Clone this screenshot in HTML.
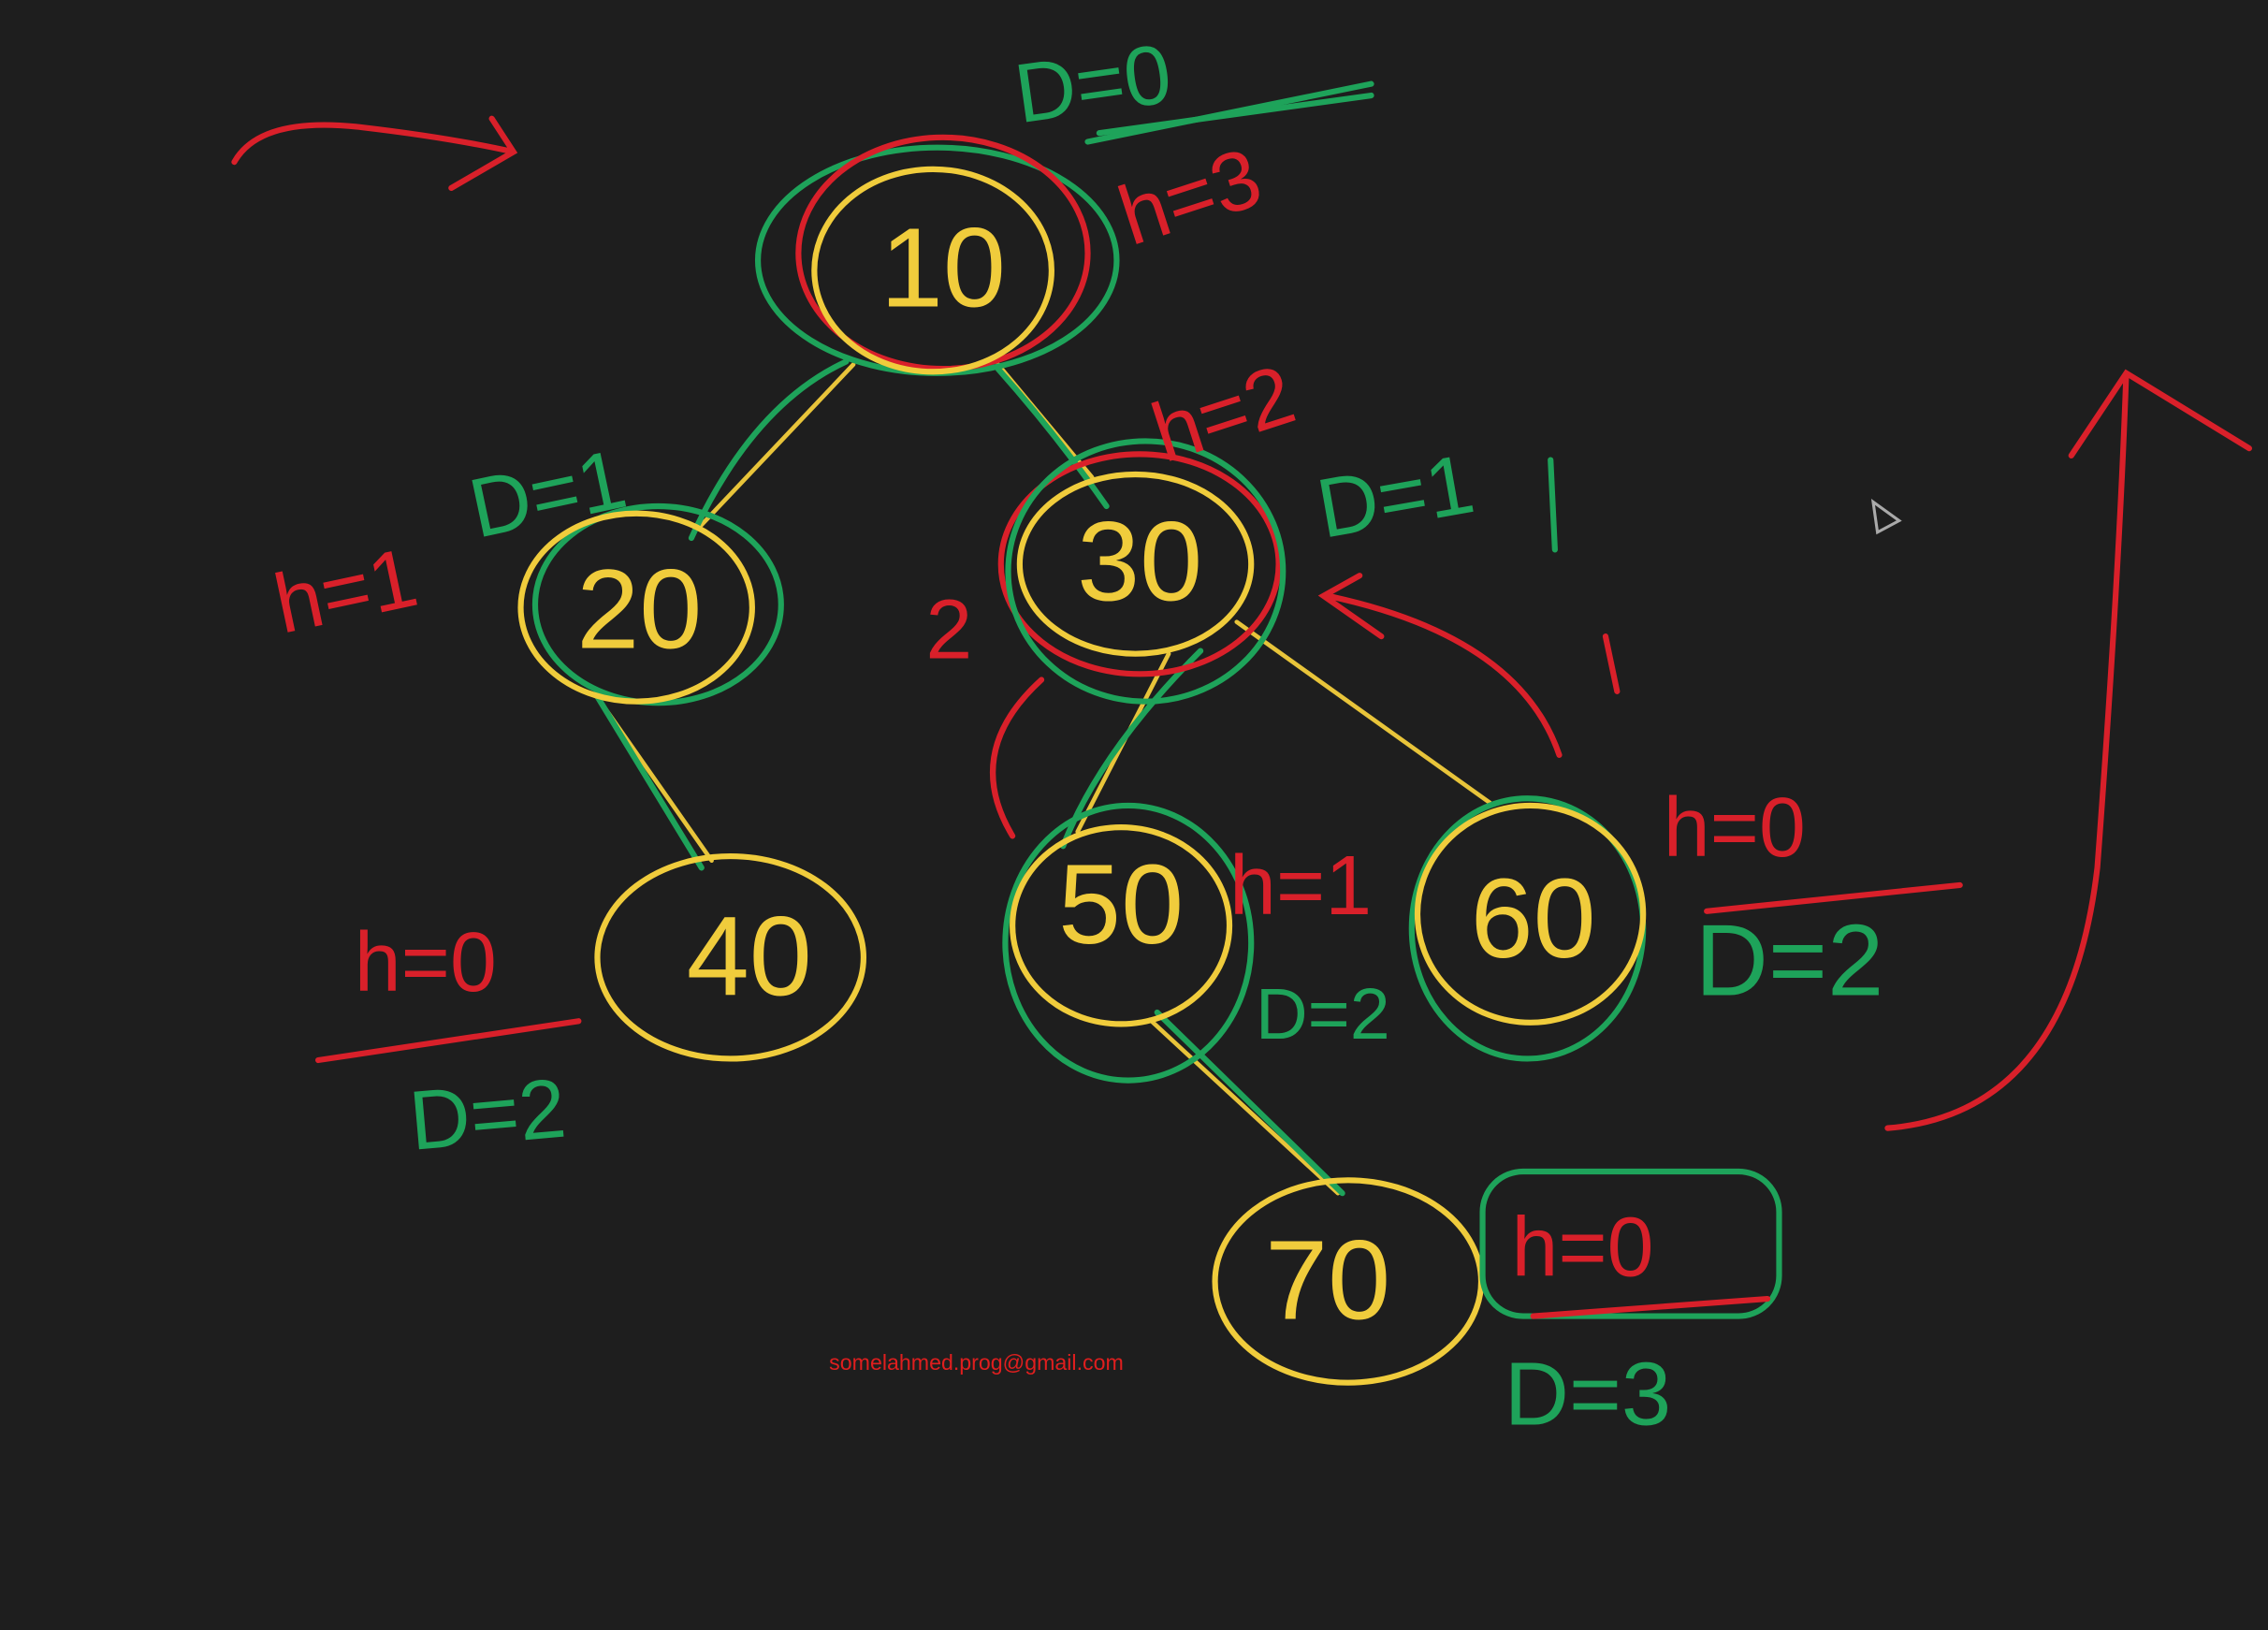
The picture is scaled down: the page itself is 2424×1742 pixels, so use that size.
<!DOCTYPE html>
<html><head><meta charset="utf-8"><style>
html,body{margin:0;padding:0;background:#1e1e1e;}
svg{display:block}
text{font-family:"Liberation Sans",sans-serif;font-weight:normal}
</style></head><body>
<svg width="2424" height="1742" viewBox="0 0 1568 1127" preserveAspectRatio="none" xmlns="http://www.w3.org/2000/svg">
<rect width="1568" height="1127" fill="#1e1e1e"/>
<g fill="none" stroke-linecap="round" stroke-width="4">
<!-- edges -->
<g stroke="#e8c43a" stroke-width="3">
<line x1="590" y1="252" x2="483" y2="365"/>
<line x1="690" y1="252" x2="755" y2="330"/>
<line x1="415" y1="485" x2="492" y2="595"/>
<line x1="808" y1="452" x2="745" y2="575"/>
<line x1="855" y1="430" x2="1030" y2="555"/>
<line x1="795" y1="705" x2="925" y2="825"/>
</g>
<g stroke="#1ea35a" stroke-width="4">
<path d="M585 250 Q520 280 478 372"/>
<path d="M690 255 Q730 300 765 350"/>
<line x1="412" y1="480" x2="485" y2="600"/>
<path d="M830 450 Q760 520 735 585"/>
<line x1="800" y1="700" x2="928" y2="825"/>
</g>
<!-- node circles -->
<ellipse cx="648" cy="180" rx="124" ry="78" stroke="#1ea35a"/>
<ellipse cx="652" cy="175" rx="100" ry="80" stroke="#d9202a"/>
<ellipse cx="645" cy="187" rx="82" ry="70" stroke="#f0cc3c"/>
<ellipse cx="455" cy="418" rx="85" ry="68" stroke="#1ea35a"/>
<ellipse cx="440" cy="420" rx="80" ry="65" stroke="#f0cc3c"/>
<ellipse cx="788" cy="390" rx="96" ry="76" stroke="#d9202a"/>
<ellipse cx="792" cy="395" rx="95" ry="90" stroke="#1ea35a"/>
<ellipse cx="785" cy="390" rx="80" ry="62" stroke="#f0cc3c"/>
<ellipse cx="505" cy="662" rx="92" ry="70" stroke="#f0cc3c"/>
<ellipse cx="780" cy="652" rx="85" ry="95" stroke="#1ea35a"/>
<ellipse cx="775" cy="640" rx="75" ry="68" stroke="#f0cc3c"/>
<ellipse cx="1056" cy="642" rx="80" ry="90" stroke="#1ea35a"/>
<ellipse cx="1058" cy="632" rx="78" ry="75" stroke="#f0cc3c"/>
<ellipse cx="932" cy="886" rx="92" ry="70" stroke="#f0cc3c"/>
<rect x="1025" y="810" width="205" height="100" rx="28" stroke="#1ea35a"/>
<!-- red arrows and marks -->
<path d="M162 112 Q180 80 250 88 Q310 95 355 105 M340 82 L355 105 L312 130" stroke="#d9202a"/>
<path d="M1305 780 Q1430 770 1450 600 Q1465 400 1470 258 M1432 315 L1470 258 L1555 310" stroke="#d9202a"/>
<path d="M1078 522 Q1050 440 918 412 M940 398 L915 412 L955 440" stroke="#d9202a"/>
<path d="M700 578 Q665 520 720 470" stroke="#d9202a"/>
<line x1="1110" y1="440" x2="1118" y2="478" stroke="#d9202a"/>
<line x1="752" y1="98" x2="948" y2="58" stroke="#1ea35a"/>
<line x1="760" y1="92" x2="948" y2="66" stroke="#1ea35a"/>
<line x1="220" y1="733" x2="400" y2="706" stroke="#d9202a"/>
<line x1="1180" y1="630" x2="1355" y2="612" stroke="#d9202a"/>
<line x1="1060" y1="910" x2="1222" y2="898" stroke="#d9202a"/>
<line x1="1072" y1="318" x2="1075" y2="380" stroke="#1ea35a"/>
</g>
<g font-size="78" fill="#f0cc3c" text-anchor="middle">
<text x="652" y="212">10</text>
<text x="442" y="448">20</text>
<text x="788" y="415">30</text>
<text x="518" y="688">40</text>
<text x="775" y="652">50</text>
<text x="1060" y="662">60</text>
<text x="918" y="912">70</text>
</g>
<g font-size="58" fill="#1ea35a">
<text x="705" y="85" transform="rotate(-8 705 85)">D=0</text>
<text x="330" y="372" transform="rotate(-12 330 372)">D=1</text>
<text x="915" y="372" transform="rotate(-10 915 372)">D=1</text>
<text x="285" y="795" transform="rotate(-5 285 795)">D=2</text>
<text x="868" y="718" font-size="50">D=2</text>
<text x="1172" y="688" font-size="70">D=2</text>
<text x="1040" y="985" font-size="62">D=3</text>
</g>
<g font-size="58" fill="#d9202a">
<text x="782" y="170" transform="rotate(-18 782 170)">h=3</text>
<text x="805" y="320" transform="rotate(-18 805 320)">h=2</text>
<text x="195" y="438" transform="rotate(-12 195 438)">h=1</text>
<text x="245" y="685">h=0</text>
<text x="850" y="632">h=1</text>
<text x="1150" y="592">h=0</text>
<text x="1045" y="882">h=0</text>
<text x="640" y="455">2</text>
</g>
<text x="675" y="947" font-size="15" fill="#e01e1e" text-anchor="middle">somelahmed.prog@gmail.com</text>
<path d="M1295 347 L1313 360 L1298 368 Z" fill="none" stroke="#aaa" stroke-width="2"/>
</svg>
</body></html>
